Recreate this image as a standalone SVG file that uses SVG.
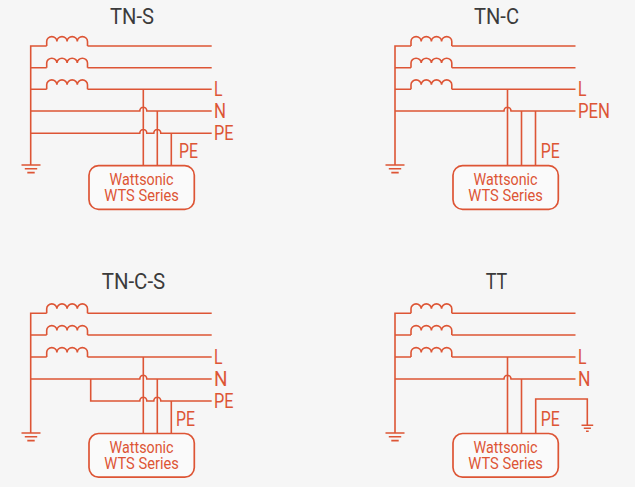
<svg xmlns="http://www.w3.org/2000/svg" xmlns:xlink="http://www.w3.org/1999/xlink" width="635" height="487" viewBox="0 0 635 487">
<style>
.w{fill:none;stroke:#dd5535;stroke-width:1.6}
.b{fill:#fafafa;stroke:#dd5535;stroke-width:1.7}
text{font-family:Roboto,"Liberation Sans",sans-serif;fill:#dd5535}
.t{font-size:22px;fill:#3b3b3b}
.l{font-size:20px}
.c{font-size:16.5px;text-anchor:middle}
</style>
<defs>
<path id="coil" class="w" d="M0 0V-4.6a5.1 4.8 0 0 1 10.2 0a5.1 4.8 0 0 1 10.2 0a5.1 4.8 0 0 1 10.2 0a5.1 4.8 0 0 1 10.2 0V0"/>
<path id="gnd" class="w" d="M-9.5 0H9.5M-6.2 3.8H6.2M-3.7 7.6H3.7"/>
<g id="inv">
<rect class="b" x="0" y="0" width="105.3" height="43.6" rx="9.5"/>
<text class="c" x="52.6" y="19.7" textLength="64" lengthAdjust="spacingAndGlyphs">Wattsonic</text>
<text class="c" x="52.6" y="35.3" textLength="74.5" lengthAdjust="spacingAndGlyphs">WTS Series</text>
</g>
</defs>
<rect width="635" height="487" fill="#f6f6f6"/>

<g id="connectors">
<g id="wires-tn-s">
<path class="w" d="M30.7 165V46H46.7M87.5 46H211.7M30.7 67.7H46.7M87.5 67.7H211.7M30.7 89.3H46.7M87.5 89.3H211.7M30.7 111H139.8a3.5 3.8 0 0 1 7 0H211.7M30.7 133.3H139.8a3.5 3.8 0 0 1 7 0H153.8a3.5 3.8 0 0 1 7 0H211.7M143.3 89.3V165.7M157.3 111V165.7M171.3 133.3V165.7"/>
</g>
<g id="wires-tn-c">
<path class="w" d="M395 165V46H411M451.8 46H575.5M395 67.7H411M451.8 67.7H575.5M395 89.3H411M451.8 89.3H575.5M395 111H504a3.5 3.8 0 0 1 7 0H575.5M507.5 89.3V165.7M521.5 111V165.7M535.5 111V165.7"/>
</g>
<g id="wires-tn-c-s">
<path class="w" d="M30.7 433V313.3H46.7M87.5 313.3H211.7M30.7 335H46.7M87.5 335H211.7M30.7 357H46.7M87.5 357H211.7M30.7 379H139.8a3.5 3.8 0 0 1 7 0H211.7M90.7 379V401H139.8a3.5 3.8 0 0 1 7 0H153.8a3.5 3.8 0 0 1 7 0H211.7M143.3 357V433.3M157.3 379V433.3M171.3 401V433.3"/>
</g>
<g id="wires-tt">
<path class="w" d="M395 433V313.3H411M451.8 313.3H575.5M395 335H411M451.8 335H575.5M395 357H411M451.8 357H575.5M395 379H504a3.5 3.8 0 0 1 7 0H575.5M507.5 357V433.3M521.5 379V433.3M535.7 433.3V399H587.3V425"/>
</g>
</g>

<g id="tn-s-source">
<use xlink:href="#coil" href="#coil" x="46.7" y="46"/>
<use xlink:href="#coil" href="#coil" x="46.7" y="67.7"/>
<use xlink:href="#coil" href="#coil" x="46.7" y="89.3"/>
<use xlink:href="#gnd" href="#gnd" x="31" y="165"/>
</g>
<g id="tn-s-inverter"><use xlink:href="#inv" href="#inv" x="89" y="165.7"/></g>
<g id="tn-s-labels">
<text class="t" x="110" y="24" textLength="44" lengthAdjust="spacingAndGlyphs">TN-S</text>
<text class="l" x="214" y="95.5" textLength="8.5" lengthAdjust="spacingAndGlyphs">L</text>
<text class="l" x="214" y="118" textLength="12" lengthAdjust="spacingAndGlyphs">N</text>
<text class="l" x="214" y="140" textLength="19.5" lengthAdjust="spacingAndGlyphs">PE</text>
<text class="l" x="179" y="158" textLength="19" lengthAdjust="spacingAndGlyphs">PE</text>
</g>

<g id="tn-c-source">
<use xlink:href="#coil" href="#coil" x="411" y="46"/>
<use xlink:href="#coil" href="#coil" x="411" y="67.7"/>
<use xlink:href="#coil" href="#coil" x="411" y="89.3"/>
<use xlink:href="#gnd" href="#gnd" x="395" y="165"/>
</g>
<g id="tn-c-inverter"><use xlink:href="#inv" href="#inv" x="453" y="165.7"/></g>
<g id="tn-c-labels">
<text class="t" x="474" y="24" textLength="45" lengthAdjust="spacingAndGlyphs">TN-C</text>
<text class="l" x="578" y="95.5" textLength="8.5" lengthAdjust="spacingAndGlyphs">L</text>
<text class="l" x="578" y="118" textLength="32" lengthAdjust="spacingAndGlyphs">PEN</text>
<text class="l" x="540.7" y="158" textLength="19" lengthAdjust="spacingAndGlyphs">PE</text>
</g>

<g id="tn-c-s-source">
<use xlink:href="#coil" href="#coil" x="46.7" y="313.3"/>
<use xlink:href="#coil" href="#coil" x="46.7" y="335"/>
<use xlink:href="#coil" href="#coil" x="46.7" y="357"/>
<use xlink:href="#gnd" href="#gnd" x="31" y="433"/>
</g>
<g id="tn-c-s-inverter"><use xlink:href="#inv" href="#inv" x="89" y="433.5"/></g>
<g id="tn-c-s-labels">
<text class="t" x="101.7" y="289" textLength="63.5" lengthAdjust="spacingAndGlyphs">TN-C-S</text>
<text class="l" x="214" y="363.5" textLength="8.5" lengthAdjust="spacingAndGlyphs">L</text>
<text class="l" x="214" y="386" textLength="13.5" lengthAdjust="spacingAndGlyphs">N</text>
<text class="l" x="214" y="407.5" textLength="19.5" lengthAdjust="spacingAndGlyphs">PE</text>
<text class="l" x="176" y="426" textLength="19" lengthAdjust="spacingAndGlyphs">PE</text>
</g>

<g id="tt-source">
<use xlink:href="#coil" href="#coil" x="411" y="313.3"/>
<use xlink:href="#coil" href="#coil" x="411" y="335"/>
<use xlink:href="#coil" href="#coil" x="411" y="357"/>
<use xlink:href="#gnd" href="#gnd" x="395" y="433"/>
<path class="w" d="M581.5 425.3H593.2M583.8 428.3H590.9M586 431.3H588.7"/>
</g>
<g id="tt-inverter"><use xlink:href="#inv" href="#inv" x="453" y="433.5"/></g>
<g id="tt-labels">
<text class="t" x="485.7" y="289" textLength="21.5" lengthAdjust="spacingAndGlyphs">TT</text>
<text class="l" x="578" y="363.5" textLength="8.5" lengthAdjust="spacingAndGlyphs">L</text>
<text class="l" x="578" y="385.5" textLength="12.5" lengthAdjust="spacingAndGlyphs">N</text>
<text class="l" x="540.7" y="426" textLength="19" lengthAdjust="spacingAndGlyphs">PE</text>
</g>
</svg>
